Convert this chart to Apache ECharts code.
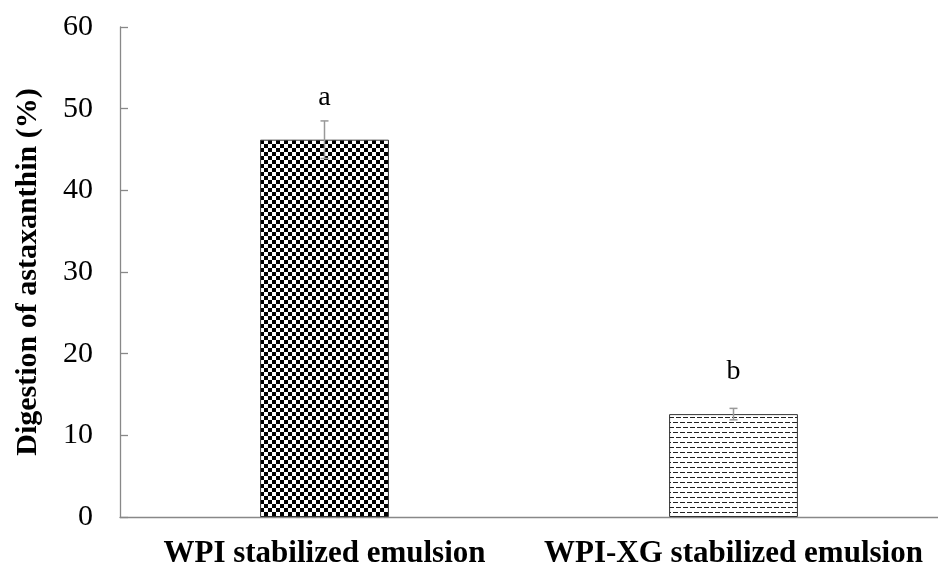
<!DOCTYPE html>
<html>
<head>
<meta charset="utf-8">
<script src="https://cdn.jsdelivr.net/npm/echarts@6/dist/echarts.min.js"></script>
<style>
  html, body { margin: 0; padding: 0; background: #fff; }
  #main { width: 938px; height: 570px; }
</style>
</head>
<body>
<div id="main"></div>
<script>
// data
var categories = ['WPI stabilized emulsion', 'WPI-XG stabilized emulsion'];
var digestion = [46.2, 12.6];
var errors = [2.3, 0.7];
var letters = ['a', 'b'];
var yTicks = [0, 10, 20, 30, 40, 50, 60];

// fill patterns
function checkerPattern() {
    var c = document.createElement('canvas');
    c.width = 8; c.height = 8;
    var ctx = c.getContext('2d');
    ctx.fillStyle = '#fff';
    ctx.fillRect(0, 0, 8, 8);
    ctx.fillStyle = '#000';
    ctx.fillRect(0, 0, 4, 4);
    ctx.fillRect(4, 4, 4, 4);
    return c;
}
function dashPattern() {
    var c = document.createElement('canvas');
    c.width = 14; c.height = 10;
    var ctx = c.getContext('2d');
    ctx.fillStyle = '#fff';
    ctx.fillRect(0, 0, 14, 10);
    ctx.fillStyle = '#222';
    ctx.fillRect(1, 2, 5, 1);
    ctx.fillRect(8, 2, 5, 1);
    ctx.fillRect(4, 7, 5, 1);
    ctx.fillRect(11, 7, 3, 1);
    ctx.fillRect(0, 7, 2, 1);
    return c;
}
var patterns = [checkerPattern(), dashPattern()];

var chart = echarts.init(document.getElementById('main'));

var font = '"Liberation Serif", "Times New Roman", serif';

var option = {
    animation: false,
    backgroundColor: '#fff',
    grid: { left: 120, right: -2, top: 27, bottom: 53 },
    xAxis: {
        type: 'category',
        data: categories,
        axisLine: { lineStyle: { color: '#888', width: 1.3 } },
        axisTick: { show: false },
        axisLabel: {
            interval: 0,
            hideOverlap: false,
            margin: 21,
            color: '#000',
            fontFamily: font,
            fontWeight: 'bold',
            fontSize: 31
        }
    },
    yAxis: {
        type: 'value',
        min: yTicks[0],
        max: yTicks[yTicks.length - 1],
        interval: 10,
        name: 'Digestion of astaxanthin (%)',
        nameLocation: 'middle',
        nameGap: 77,
        nameTextStyle: {
            color: '#000',
            fontFamily: font,
            fontWeight: 'bold',
            fontSize: 30
        },
        axisLine: { show: true, lineStyle: { color: '#888', width: 1.3 } },
        axisTick: { show: true, inside: true, length: 8, lineStyle: { color: '#888', width: 1.3 } },
        splitLine: { show: false },
        axisLabel: {
            margin: 27,
            color: '#000',
            fontFamily: font,
            fontSize: 30
        }
    },
    series: [
        {
            type: 'bar',
            barWidth: '31.5%',
            data: digestion.map(function (v, i) {
                return {
                    value: v,
                    itemStyle: {
                        color: { image: patterns[i], repeat: 'repeat' },
                        borderColor: '#333',
                        borderWidth: 1
                    }
                };
            }),
            label: {
                show: true,
                position: 'top',
                distance: 28,
                color: '#000',
                fontFamily: font,
                fontSize: 28,
                formatter: function (p) { return letters[p.dataIndex]; }
            }
        },
        {
            type: 'custom',
            data: digestion.map(function (v, i) { return [i, v, errors[i]]; }),
            z: 5,
            renderItem: function (params, api) {
                var x = api.value(0);
                var top = api.coord([x, api.value(1) + api.value(2)]);
                var bot = api.coord([x, api.value(1) - api.value(2)]);
                var half = 4;
                var style = { stroke: '#999', lineWidth: 1.5 };
                return {
                    type: 'group',
                    children: [
                        { type: 'line', shape: { x1: top[0], y1: top[1], x2: bot[0], y2: bot[1] }, style: style },
                        { type: 'line', shape: { x1: top[0] - half, y1: top[1], x2: top[0] + half, y2: top[1] }, style: style },
                        { type: 'line', shape: { x1: bot[0] - half, y1: bot[1], x2: bot[0] + half, y2: bot[1] }, style: style }
                    ]
                };
            }
        }
    ]
};
chart.setOption(option);
</script>
</body>
</html>
